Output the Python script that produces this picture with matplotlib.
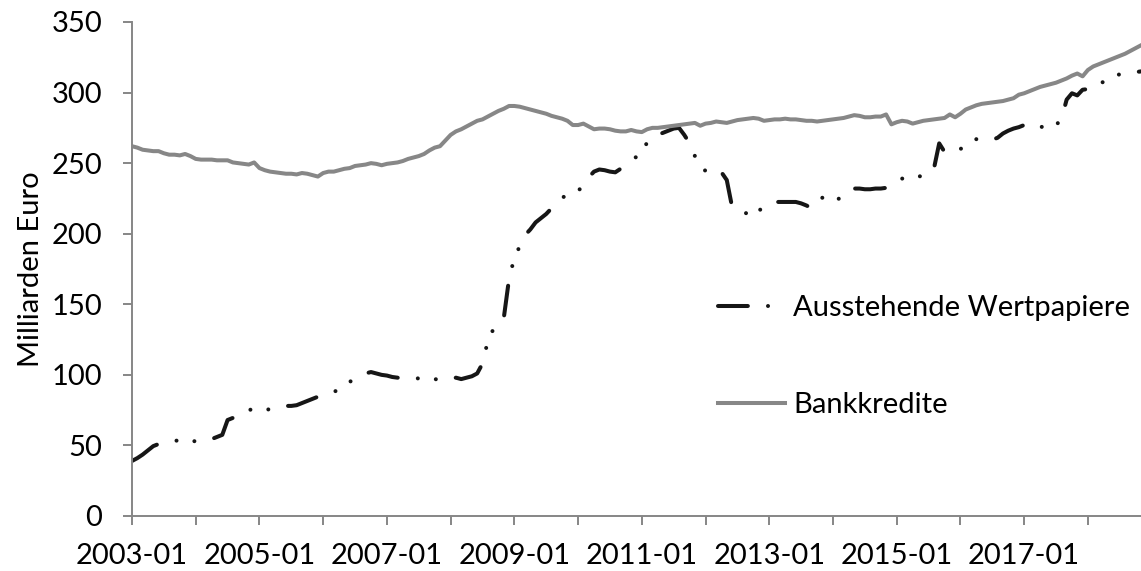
import matplotlib
matplotlib.use("Agg")
import matplotlib.pyplot as plt
import numpy as np

plt.rcParams['font.family'] = ['Lato', 'DejaVu Sans']
plt.rcParams['lines.scale_dashes'] = False

# Monthly data, 2003-01 .. 2018-11 (Milliarden Euro)
start_year = 2003
wertpapiere = [
    # 2003
    39, 41, 43.5, 46.5, 49.5, 51, 52, 52.5, 53, 54, 53.5, 53,
    # 2004
    53, 53, 53.5, 54.5, 56, 57.5, 68, 69.5, 70, 72.5, 75, 76,
    # 2005
    76, 75.5, 75.5, 76.5, 77, 78, 78, 78.5, 80, 81.5, 83, 84.5,
    # 2006
    85.5, 87, 88, 89.5, 92, 95, 97.5, 99, 101, 102, 101, 100,
    # 2007
    99.5, 98.5, 98, 97.5, 97.5, 97.5, 97.5, 97.5, 97.5, 97, 96.5, 96.5,
    # 2008
    97, 98, 97, 98, 99, 101, 108, 124, 132, 136, 140, 168,
    # 2009
    183, 191, 199, 203, 208, 211, 214, 218, 222, 225.5, 227.5, 228.5,
    # 2010
    230, 235, 240, 244, 245.5, 245, 244, 243.5, 246, 249, 252, 254.5,
    # 2011
    256, 265, 268.5, 270, 271.5, 273, 274.5, 275, 270, 264, 255, 248,
    # 2012
    244.5, 243, 245, 243.5, 238, 219, 217, 215.5, 214, 212, 216, 219.5,
    # 2013
    221, 222.5, 222.5, 222.5, 222.5, 222.5, 221.5, 220, 218, 223, 225.5, 223,
    # 2014
    223, 224.5, 228, 231.5, 232, 232, 231.5, 231.5, 232, 232, 232.5, 233.5,
    # 2015
    236, 239, 240.5, 240.5, 240.5, 241, 245, 246, 264, 258, 257, 258.5,
    # 2016
    260, 262.5, 265, 267, 267, 266.5, 266.5, 268, 271, 273, 274.5, 275.5,
    # 2017
    277, 278.5, 277.5, 276, 275, 274.5, 277, 281, 295, 299.5, 298, 302,
    # 2018
    302.5, 302, 305, 308, 309.5, 311.5, 313, 313.5, 314, 314.5, 315,
]
bankkredite = [
    # 2003
    262, 261, 259.5, 259, 258.5, 258.5, 257, 256, 256, 255.5, 256.5, 255,
    # 2004
    253, 252.5, 252.5, 252.5, 252, 252, 252, 250.5, 250, 249.5, 249, 250.5,
    # 2005
    246.5, 245, 244, 243.5, 243, 242.5, 242.5, 242, 243, 242.5, 241.5, 240.5,
    # 2006
    243, 244, 244, 245, 246, 246.5, 248, 248.5, 249, 250, 249.5, 248.5,
    # 2007
    249.5, 250, 250.5, 251.5, 253, 254, 255, 256.5, 259, 261, 262, 266,
    # 2008
    270, 272.5, 274, 276, 278, 280, 281, 283, 285, 287, 288.5, 290.5,
    # 2009
    290.5, 290, 289, 288, 287, 286, 285, 283.5, 282.5, 281.5, 280, 277,
    # 2010
    277, 278, 276, 274, 274.5, 274.5, 274, 273, 272.5, 272.5, 273.5, 272.5,
    # 2011
    272, 274, 275, 275, 275.5, 276, 276.5, 277, 277.5, 278, 278.5, 276.5,
    # 2012
    278, 278.5, 279.5, 279, 278.5, 279.5, 280.5, 281, 281.5, 282, 281.5, 280,
    # 2013
    280.5, 281, 281, 281.5, 281, 281, 280.5, 280, 280, 279.5, 280, 280.5,
    # 2014
    281, 281.5, 282, 283, 284, 283.5, 282.5, 282.5, 283, 283, 284.5, 277.5,
    # 2015
    279, 280, 279.5, 278, 279, 280, 280.5, 281, 281.5, 282, 284.5, 282.5,
    # 2016
    285, 288, 289.5, 291, 292, 292.5, 293, 293.5, 294, 295, 296, 298.5,
    # 2017
    299.5, 301, 302.5, 304, 305, 306, 307, 308.5, 310, 312, 313.5, 311.5,
    # 2018
    316, 318.5, 320, 321.5, 323, 324.5, 326, 327.5, 329.5, 331.5, 333.5,
]
series_labels = ["Ausstehende Wertpapiere", "Bankkredite"]
y_ticks = [0, 50, 100, 150, 200, 250, 300, 350]
y_label = "Milliarden Euro"

n = len(bankkredite)
x = np.arange(n)
tick_pos = list(range(0, n, 12))
tick_labels = [f"{start_year + i // 12}-01" if (i // 12) % 2 == 0 else "" for i in tick_pos]

W, H = 1141, 571
fig = plt.figure(figsize=(W / 100, H / 100), dpi=100)
ax = fig.add_axes([132 / W, 1 - 516 / H, 1 - 132 / W, (516 - 22) / H])

fs = 21
axis_col = '#868686'
ax.plot(x, wertpapiere, color='#161616', lw=2.9,
        linestyle=(0, (21.5, 14.5, 0.01, 13.0, 0.01, 14.5)),
        dash_capstyle='round', solid_capstyle='round', label=series_labels[0])
ax.plot(x, bankkredite, color='#878787', lw=2.9, solid_joinstyle='round',
        label=series_labels[1])

ax.set_xlim(0, n - 1)
ax.set_ylim(0, 350)
ax.set_yticks(y_ticks)
ax.set_xticks(tick_pos)
ax.set_xticklabels(tick_labels)

for s in ['top', 'right']:
    ax.spines[s].set_visible(False)
for s in ['left', 'bottom']:
    ax.spines[s].set_color(axis_col)
    ax.spines[s].set_linewidth(1.4)
ax.tick_params(axis='both', colors=axis_col, labelcolor='black', labelsize=fs,
               length=6.5, width=1.4, direction='out')
ax.tick_params(axis='y', pad=15)
ax.tick_params(axis='x', pad=13)

ax.set_ylabel(y_label, fontsize=fs)
ax.yaxis.set_label_coords(-0.087, 0.5)

leg = ax.legend(frameon=False, fontsize=fs, handlelength=2.3, handletextpad=0.28,
                labelspacing=2.45, loc='center left', borderpad=0, borderaxespad=0,
                bbox_to_anchor=(718 / W, 1 - (305 + 408) / 2 / H),
                bbox_transform=fig.transFigure)

fig.savefig("out.png", dpi=100)
